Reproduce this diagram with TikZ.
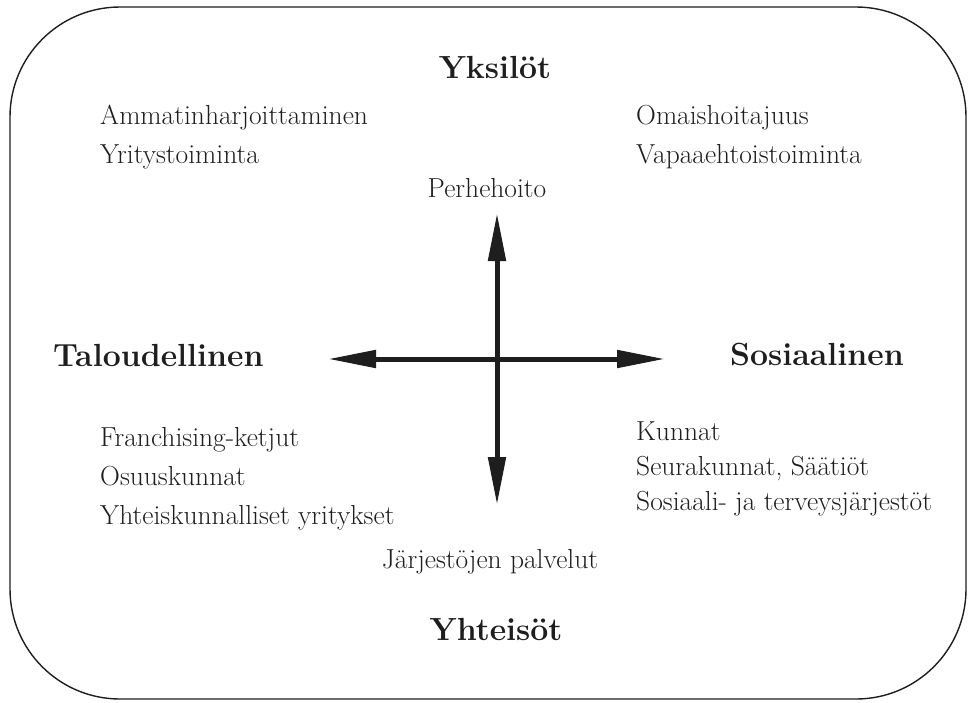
\documentclass[tikz,border=0pt]{standalone}
\usetikzlibrary{arrows.meta}
\definecolor{ink}{HTML}{1E1E1E}
\begin{document}
\begin{tikzpicture}[x=1pt,y=-1pt,
  item/.style={inner sep=0pt, text=ink, font=\fontsize{27.5}{33}\selectfont},
  head/.style={inner sep=0pt, text=ink, font=\fontsize{32}{38}\selectfont\bfseries},
  axis/.style={line width=5pt, draw=ink, -{Triangle[length=48pt,width=17pt]}},
  frame/.style={draw=ink, line width=1.4pt, rounded corners=110pt}]
\useasboundingbox (0,0) rectangle (968,702);
\draw[frame] (10,7) rectangle (966,699);
% axes
\coordinate (c) at (497,359);
\coordinate (top) at (497,213);
\coordinate (bot) at (497,505);
\coordinate (lft) at (328,359);
\coordinate (rgt) at (665,359);
\draw[axis] (c) -- (top);
\draw[axis] (c) -- (bot);
\draw[axis] (c) -- (lft);
\draw[axis] (c) -- (rgt);
% headings
\node[head, anchor=base] (yks) at (495,78) {Yksil\"ot};
\node[head, anchor=base] (yht) at (496,640) {Yhteis\"ot};
\node[head, anchor=base west] (tal) at (53,366) {Taloudellinen};
\node[head, anchor=base west] (sos) at (730,365) {Sosiaalinen};
% items
\node[item, anchor=base west] (amm) at (100,124) {Ammatinharjoittaminen};
\node[item, anchor=base west] (yri) at (100,163) {Yritystoiminta};
\node[item, anchor=base west] (oma) at (636,124) {Omaishoitajuus};
\node[item, anchor=base west] (vap) at (636,163) {Vapaaehtoistoiminta};
\node[item, anchor=base] (per) at (487,197) {Perhehoito};
\node[item, anchor=base west] (fra) at (100,446) {Franchising-ketjut};
\node[item, anchor=base west] (osu) at (100,485) {Osuuskunnat};
\node[item, anchor=base west] (yhk) at (100,524) {Yhteiskunnalliset yritykset};
\node[item, anchor=base west] (kun) at (636,440) {Kunnat};
\node[item, anchor=base west] (seu) at (636,475) {Seurakunnat, S\"a\"ati\"ot};
\node[item, anchor=base west] (ster) at (636,510) {Sosiaali- ja terveysj\"arjest\"ot};
\node[item, anchor=base] (jar) at (490,568) {J\"arjest\"ojen palvelut};
\end{tikzpicture}
\end{document}
